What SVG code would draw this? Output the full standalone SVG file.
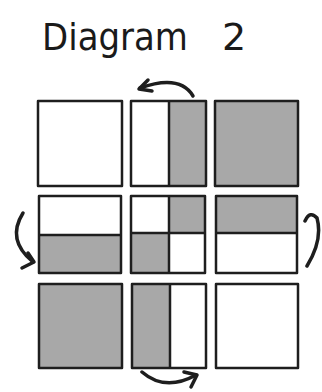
<svg xmlns="http://www.w3.org/2000/svg" width="322" height="392" viewBox="0 0 322 392">
<style>
.frame{fill:none;stroke:#1e1e1e;stroke-width:2.5;stroke-linejoin:round}
.div{fill:none;stroke:#1e1e1e;stroke-width:2.5}
.g{fill:#a8a8a8}
.w{fill:#ffffff}
.arr{fill:none;stroke:#1e1e1e;stroke-width:3.5;stroke-linecap:round;stroke-linejoin:round}
.title{font-family:"DejaVu Sans","Liberation Sans",sans-serif;font-size:38px;fill:#1a1a1a}
</style>
<rect width="322" height="392" fill="#ffffff"/>
<text class="title" x="42" y="50"><tspan textLength="146" lengthAdjust="spacingAndGlyphs">Diagram</tspan><tspan x="222">2</tspan></text>

<g id="r1c1"><rect class="w" x="38" y="101" width="84" height="85"/><rect class="frame" x="38" y="101" width="84" height="85"/></g>
<g id="r1c2"><rect class="w" x="131" y="101" width="75" height="85"/><rect class="g" x="169" y="101" width="37" height="85"/><line class="div" x1="169" y1="101" x2="169" y2="186"/><rect class="frame" x="131" y="101" width="75" height="85"/></g>
<g id="r1c3"><rect class="g" x="215" y="101" width="83" height="85"/><rect class="frame" x="215" y="101" width="83" height="85"/></g>

<g id="r2c1"><rect class="w" x="39" y="196" width="82" height="77"/><rect class="g" x="39" y="235" width="82" height="38"/><line class="div" x1="39" y1="235" x2="121" y2="235"/><rect class="frame" x="39" y="196" width="82" height="77"/></g>
<g id="r2c2"><rect class="w" x="131" y="196" width="74" height="77"/><rect class="g" x="169" y="196" width="36" height="37"/><rect class="g" x="131" y="233" width="38" height="40"/><line class="div" x1="169" y1="196" x2="169" y2="273"/><line class="div" x1="131" y1="233" x2="205" y2="233"/><rect class="frame" x="131" y="196" width="74" height="77"/></g>
<g id="r2c3"><rect class="w" x="216" y="196" width="81" height="77"/><rect class="g" x="216" y="196" width="81" height="37"/><line class="div" x1="216" y1="233" x2="297" y2="233"/><rect class="frame" x="216" y="196" width="81" height="77"/></g>

<g id="r3c1"><rect class="g" x="39" y="284" width="83" height="84"/><rect class="frame" x="39" y="284" width="83" height="84"/></g>
<g id="r3c2"><rect class="w" x="132" y="284" width="74" height="84"/><rect class="g" x="132" y="284" width="38" height="84"/><line class="div" x1="170" y1="284" x2="170" y2="368"/><rect class="frame" x="132" y="284" width="74" height="84"/></g>
<g id="r3c3"><rect class="w" x="216" y="284" width="82" height="84"/><rect class="frame" x="216" y="284" width="82" height="84"/></g>

<g id="connectors">
<path class="arr" d="M193 96 Q180 74 140 88"/><path class="arr" d="M148 80 L139 89 L152 91"/>
<path class="arr" d="M23 213 Q6 240 33 262"/><path class="arr" d="M28 253 L34 262 L22 268"/>
<path class="arr" d="M305 221 Q310 210 317 218 Q323 240 307 266"/>
<path class="arr" d="M142 372 Q165 392 196 375"/><path class="arr" d="M184 372 L197 375 L191 387"/>
</g>
</svg>
